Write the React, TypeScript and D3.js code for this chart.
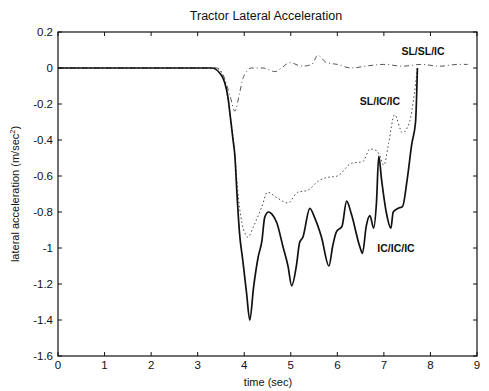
import React from "react";
import * as d3 from "d3";

const xTicks = [0, 1, 2, 3, 4, 5, 6, 7, 8, 9];
const yTicks = [0.2, 0, -0.2, -0.4, -0.6, -0.8, -1, -1.2, -1.4, -1.6];

const icT = [0, 3.3, 3.48, 3.58, 3.65, 3.71, 3.76, 3.8, 3.84, 3.9, 3.97, 4.05, 4.12, 4.2, 4.3, 4.38, 4.44, 4.52, 4.59, 4.7, 4.83, 4.94, 5.02, 5.12, 5.19, 5.26, 5.41, 5.51, 5.66, 5.82, 5.9, 5.98, 6.1, 6.2, 6.3, 6.48, 6.54, 6.62, 6.7, 6.78, 6.84, 6.89, 6.95, 7.05, 7.15, 7.2, 7.3, 7.4, 7.5, 7.6, 7.68, 7.72];
const icV = [0, 0, -0.03, -0.08, -0.16, -0.29, -0.4, -0.49, -0.68, -0.92, -1.07, -1.25, -1.4, -1.22, -1.05, -0.96, -0.83, -0.8, -0.81, -0.86, -0.99, -1.1, -1.21, -1.1, -0.97, -0.94, -0.78, -0.83, -0.94, -1.1, -0.99, -0.91, -0.88, -0.74, -0.81, -0.99, -1.03, -0.88, -0.82, -0.89, -0.75, -0.49, -0.62, -0.8, -0.89, -0.8, -0.78, -0.77, -0.62, -0.42, -0.3, 0];

const slicT = [0, 3.4, 3.5, 3.6, 3.7, 3.8, 3.86, 3.95, 4.02, 4.08, 4.2, 4.38, 4.5, 4.7, 4.94, 5.15, 5.36, 5.58, 5.75, 6.0, 6.3, 6.55, 6.7, 6.85, 6.9, 7.0, 7.1, 7.23, 7.4, 7.55, 7.65, 7.72];
const slicV = [0, 0, -0.02, -0.1, -0.27, -0.48, -0.68, -0.86, -0.92, -0.94, -0.88, -0.77, -0.69, -0.72, -0.75, -0.69, -0.68, -0.63, -0.61, -0.6, -0.53, -0.52, -0.45, -0.46, -0.48, -0.54, -0.42, -0.26, -0.36, -0.3, -0.15, 0];

const slslT = [0, 3.4, 3.55, 3.7, 3.8, 3.9, 3.97, 4.05, 4.15, 4.4, 4.66, 4.8, 4.98, 5.24, 5.45, 5.58, 5.77, 6.0, 6.3, 6.6, 7.0, 7.4, 7.8, 8.2, 8.6, 8.8];
const slslV = [0, 0, -0.04, -0.16, -0.24, -0.14, -0.06, -0.02, 0.0, 0.0, -0.02, 0.0, 0.03, 0.01, 0.02, 0.07, 0.03, 0.02, 0.0, 0.01, 0.02, 0.01, 0.02, 0.01, 0.02, 0.02];

const labels = ["SL/SL/IC", "SL/IC/IC", "IC/IC/IC"];

const W = 489, H = 391;
const left = 58, right = 477, top = 32, bottom = 356;
const font = "'Liberation Sans', Arial, sans-serif";

export default function App() {
  const x = d3.scaleLinear().domain([0, 9]).range([left, right]);
  const y = d3.scaleLinear().domain([-1.6, 0.2]).range([bottom, top]);
  const line = d3.line<[number, number]>().x(d => x(d[0])).y(d => y(d[1])).curve(d3.curveMonotoneX);
  const pts = (t: number[], v: number[]) => t.map((ti, i) => [ti, v[i]] as [number, number]);

  return (
    <svg width={W} height={H} style={{ position: "absolute", left: 0, top: 0, background: "#fff" }} fontFamily={font}>
      <rect x={0} y={0} width={W} height={H} fill="#fff" />
      <text x={266} y={20} fontSize={12.5} textAnchor="middle" fill="#111">Tractor Lateral Acceleration</text>
      <rect x={left} y={top} width={right - left} height={bottom - top} fill="none" stroke="#111" strokeWidth={1.2} />
      {xTicks.map(t => (
        <g key={"x" + t}>
          <line x1={x(t)} x2={x(t)} y1={bottom} y2={bottom - 4} stroke="#111" />
          <line x1={x(t)} x2={x(t)} y1={top} y2={top + 4} stroke="#111" />
          <text x={x(t)} y={369} fontSize={11.5} textAnchor="middle" fill="#111">{t}</text>
        </g>
      ))}
      {yTicks.map(v => (
        <g key={"y" + v}>
          <line x1={left} x2={left + 4} y1={y(v)} y2={y(v)} stroke="#111" />
          <line x1={right} x2={right - 4} y1={y(v)} y2={y(v)} stroke="#111" />
          <text x={53} y={y(v) + 4} fontSize={11.5} textAnchor="end" fill="#111">{v}</text>
        </g>
      ))}
      <text x={268} y={386} fontSize={11} textAnchor="middle" fill="#111">time (sec)</text>
      <text transform={`translate(19,${(top + bottom) / 2}) rotate(-90)`} fontSize={11} textAnchor="middle" fill="#111">
        lateral acceleration (m/sec<tspan dy={-4} fontSize={7.5}>2</tspan><tspan dy={4}>)</tspan>
      </text>
      <path d={line(pts(slslT, slslV)) || ""} fill="none" stroke="#555" strokeWidth={1} strokeDasharray="5,3,1,3" />
      <path d={line(pts(slicT, slicV)) || ""} fill="none" stroke="#444" strokeWidth={1} strokeDasharray="1.5,2.5" />
      <path d={line(pts(icT, icV)) || ""} fill="none" stroke="#111" strokeWidth={1.7} strokeLinejoin="round" />
      <text x={423} y={55} fontSize={10.5} fontWeight="bold" textAnchor="middle" fill="#111">{labels[0]}</text>
      <text x={380} y={105} fontSize={10.5} fontWeight="bold" textAnchor="middle" fill="#111">{labels[1]}</text>
      <text x={396} y={252} fontSize={10.5} fontWeight="bold" textAnchor="middle" fill="#111">{labels[2]}</text>
    </svg>
  );
}
